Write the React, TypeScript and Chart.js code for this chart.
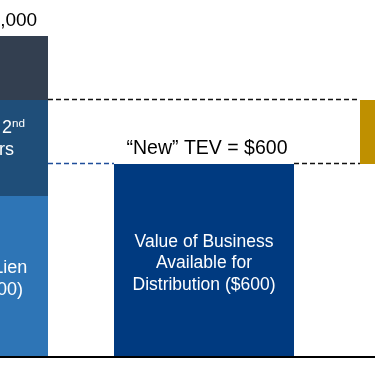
import React, { useEffect, useRef } from "react";
import { Chart, registerables } from "chart.js";

Chart.register(...registerables);

// ---- data ----
const categories = ["Old TEV", "New TEV", "Impairment"];
const firstLien = [500, null, null];
const secondLien = [300, null, null];
const equity = [200, null, null];
const newTev = [null, 600, null];
const impairment = [null, null, [600, 800]];

const topLabels = ["\u201COld\u201D TEV = $1,000", "\u201CNew\u201D TEV = $600"];
const firstLienText = [[{ t: "Value for 1st Lien" }], [{ t: "Creditors ($500)" }]];
const secondLienText = [
  [{ t: "Remaining to 2" }, { t: "nd", sup: true }],
  [{ t: "Lien Creditors" }],
  [{ t: "($300)" }],
];
const newTevText = [
  [{ t: "Value of Business" }],
  [{ t: "Available for" }],
  [{ t: "Distribution ($600)" }],
];

const FONT = '"Liberation Sans", Arial, sans-serif';

type Part = { t: string; sup?: boolean };

function drawLines(ctx: CanvasRenderingContext2D, lines: Part[][], cx: number, cy: number, size: number, lh: number, color: string) {
  ctx.save();
  ctx.fillStyle = color;
  ctx.textAlign = "left";
  ctx.textBaseline = "alphabetic";
  const n = lines.length;
  lines.forEach((parts, i) => {
    let w = 0;
    parts.forEach((p) => {
      ctx.font = `${p.sup ? size * 0.65 : size}px ${FONT}`;
      w += ctx.measureText(p.t).width;
    });
    let x = cx - w / 2;
    const base = cy + (i - (n - 1) / 2) * lh + size * 0.36;
    parts.forEach((p) => {
      ctx.font = `${p.sup ? size * 0.65 : size}px ${FONT}`;
      ctx.fillText(p.t, x, p.sup ? base - size * 0.36 : base);
      x += ctx.measureText(p.t).width;
    });
  });
  ctx.restore();
}

function dashed(ctx: CanvasRenderingContext2D, x1: number, x2: number, y: number, color: string) {
  ctx.save();
  ctx.strokeStyle = color;
  ctx.lineWidth = 1.5;
  ctx.setLineDash([5, 3]);
  ctx.beginPath();
  const yy = Math.round(y) - 0.5;
  ctx.moveTo(x1, yy);
  ctx.lineTo(x2, yy);
  ctx.stroke();
  ctx.restore();
}

const annotations = {
  id: "annotations",
  beforeDatasetsDraw(chart: any) {
    const { ctx, chartArea } = chart;
    ctx.save();
    ctx.strokeStyle = "#000";
    ctx.lineWidth = 2;
    ctx.beginPath();
    ctx.moveTo(chartArea.left, chartArea.bottom + 1);
    ctx.lineTo(chartArea.right, chartArea.bottom + 1);
    ctx.stroke();
    ctx.restore();
  },
  afterDatasetsDraw(chart: any) {
    const ctx = chart.ctx as CanvasRenderingContext2D;
    const bar = (ds: number, i: number) => chart.getDatasetMeta(ds).data[i] as any;
    const b1 = bar(0, 0);
    const b2 = bar(1, 0);
    const b3 = bar(2, 0);
    const nb = bar(3, 1);
    const gb = bar(4, 2);
    const lRight = b2.x + b2.width / 2;
    const nLeft = nb.x - nb.width / 2;
    const nRight = nb.x + nb.width / 2;
    const gLeft = gb.x - gb.width / 2;

    dashed(ctx, lRight, gLeft, b2.y, "#111");
    dashed(ctx, lRight, nLeft, nb.y, "#1F4E9A");
    dashed(ctx, nRight, gLeft, nb.y, "#111");

    // labels above bars
    ctx.save();
    ctx.fillStyle = "#000";
    ctx.textAlign = "center";
    ctx.textBaseline = "alphabetic";
    ctx.font = `19px ${FONT}`;
    ctx.fillText(topLabels[0], b3.x - 3, b3.y - 10);
    ctx.font = `19.5px ${FONT}`;
    ctx.fillText(topLabels[1], nb.x + 3, nb.y - 10);
    ctx.restore();

    // labels inside bars
    drawLines(ctx, firstLienText, b1.x, (b1.y + b1.base) / 2 + 2, 18, 22, "#fff");
    drawLines(ctx, secondLienText, b2.x, (b2.y + b2.base) / 2 + 1, 18, 22, "#fff");
    drawLines(ctx, newTevText, nb.x, (nb.y + nb.base) / 2 + 2, 17.5, 21.5, "#fff");
  },
};

export default function App() {
  const ref = useRef<HTMLCanvasElement>(null);
  useEffect(() => {
    if (!ref.current) return;
    const common = { barPercentage: 180 / 246, categoryPercentage: 1, borderWidth: 0 };
    const chart = new Chart(ref.current, {
      type: "bar",
      data: {
        labels: categories,
        datasets: [
          { label: "1st Lien", data: firstLien as any, backgroundColor: "#2E75B6", ...common },
          { label: "2nd Lien", data: secondLien as any, backgroundColor: "#1F4E79", ...common },
          { label: "Equity", data: equity as any, backgroundColor: "#333F50", ...common },
          { label: "New TEV", data: newTev as any, backgroundColor: "#003A80", ...common },
          { label: "Impairment", data: impairment as any, backgroundColor: "#BF9000", ...common },
        ],
      },
      options: {
        responsive: false,
        animation: false,
        layout: { padding: { top: 4, bottom: 10, left: 0, right: 0 } },
        plugins: { legend: { display: false }, tooltip: { enabled: false } },
        scales: {
          x: { stacked: true, display: false },
          y: { stacked: true, display: false, min: 0, max: 1100 },
        },
      },
      plugins: [annotations],
    });
    return () => chart.destroy();
  }, []);
  return (
    <div style={{ position: "fixed", left: 0, top: 0, width: 375, height: 366, overflow: "hidden", background: "#fff" }}>
      <canvas ref={ref} width={738} height={366} style={{ position: "absolute", left: -165, top: 0 }} />
    </div>
  );
}
